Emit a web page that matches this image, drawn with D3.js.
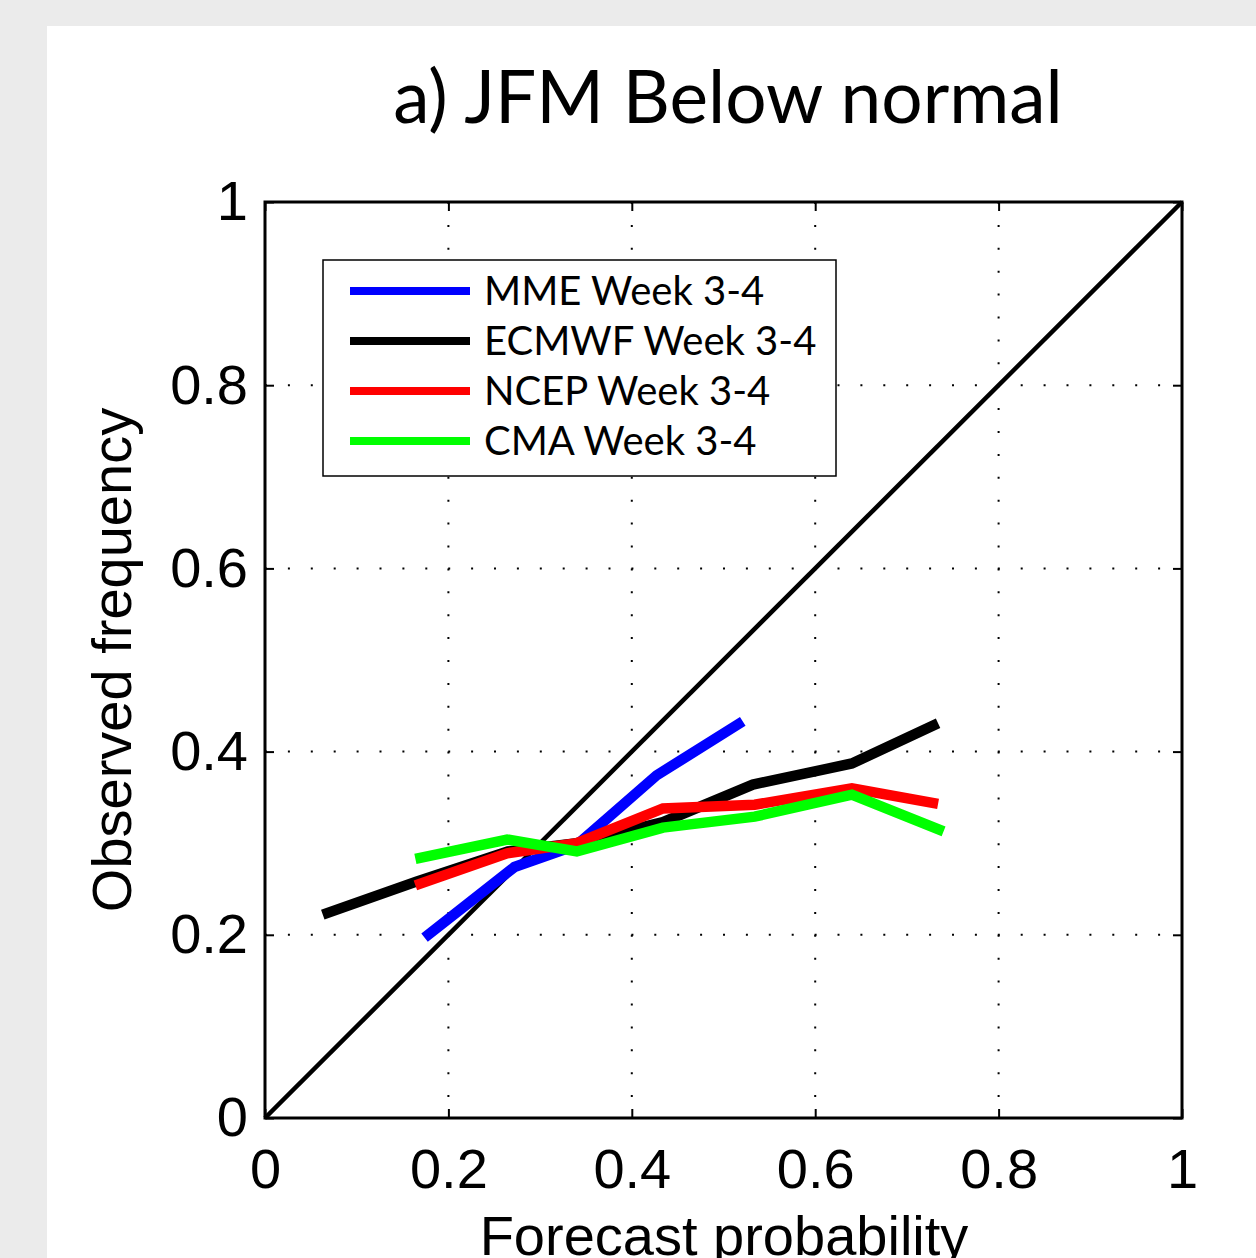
<!DOCTYPE html>
<meta charset="utf-8">
<head>
    <script type="text/javascript" src="https://d3js.org/d3.v7.min.js"></script>
    <style>
        body { margin: 0; background: #ebebeb; }
        .tick text { font-family: "Liberation Sans", Arial, sans-serif; font-size: 56px; fill: #000; }
    </style>
    <title>a) JFM Below normal</title>
</head>
<body>
<script>

    // data
    var seriesNames = ["MME Week 3-4", "ECMWF Week 3-4", "NCEP Week 3-4", "CMA Week 3-4"];
    var seriesColors = ["#0000ff", "#000000", "#ff0000", "#00ff00"];

    var mmeX = [0.174, 0.272, 0.340, 0.427, 0.521];
    var mmeY = [0.197, 0.274, 0.298, 0.374, 0.433];

    var ecmwfX = [0.063, 0.165, 0.265, 0.340, 0.434, 0.532, 0.640, 0.734];
    var ecmwfY = [0.222, 0.258, 0.291, 0.300, 0.323, 0.364, 0.387, 0.431];

    var ncepX = [0.164, 0.264, 0.340, 0.434, 0.534, 0.640, 0.734];
    var ncepY = [0.254, 0.289, 0.300, 0.338, 0.342, 0.360, 0.343];

    var cmaX = [0.164, 0.264, 0.340, 0.434, 0.534, 0.640, 0.740];
    var cmaY = [0.283, 0.304, 0.291, 0.317, 0.329, 0.353, 0.313];

    var tickVals = [0, 0.2, 0.4, 0.6, 0.8, 1];
    var gridVals = [0.2, 0.4, 0.6, 0.8];

    var allX = [mmeX, ecmwfX, ncepX, cmaX];
    var allY = [mmeY, ecmwfY, ncepY, cmaY];

    // size and plot area
    var W = 1256, H = 1258;
    var margin = {top: 202, right: 74, bottom: 140, left: 265};
    var width = W - margin.left - margin.right;
    var height = H - margin.top - margin.bottom;

    var svg = d3.select("body")
        .append("svg")
        .attr("width", W)
        .attr("height", H);

    svg.append("rect").attr("width", W).attr("height", H).attr("fill", "#ebebeb");
    svg.append("rect").attr("x", 47).attr("y", 26).attr("width", W - 47).attr("height", H - 26).attr("fill", "#fff");

    var x = d3.scaleLinear().domain([0, 1]).range([0, width]);
    var y = d3.scaleLinear().domain([0, 1]).range([height, 0]);

    var g = svg.append("g").attr("transform", "translate(" + margin.left + "," + margin.top + ")");

    // dotted grid
    g.selectAll(".vgrid").data(gridVals).enter().append("line")
        .attr("x1", d => x(d)).attr("x2", d => x(d))
        .attr("y1", 0).attr("y2", height)
        .attr("stroke", "#000").attr("stroke-width", 2)
        .attr("stroke-dasharray", "2,20.9");
    g.selectAll(".hgrid").data(gridVals).enter().append("line")
        .attr("y1", d => y(d)).attr("y2", d => y(d))
        .attr("x1", 0).attr("x2", width)
        .attr("stroke", "#000").attr("stroke-width", 2)
        .attr("stroke-dasharray", "2,20.9");

    // axes with inward ticks
    var fmt = d3.format("");
    g.append("g").attr("transform", "translate(0," + height + ")")
        .call(d3.axisBottom(x).tickValues(tickVals).tickFormat(fmt).tickSizeInner(-9).tickSizeOuter(0).tickPadding(30))
        .call(a => a.select(".domain").remove());
    g.append("g")
        .call(d3.axisLeft(y).tickValues(tickVals).tickFormat(fmt).tickSizeInner(-9).tickSizeOuter(0).tickPadding(17))
        .call(a => a.select(".domain").remove());
    g.append("g")
        .call(d3.axisTop(x).tickValues(tickVals).tickFormat("").tickSizeInner(-9).tickSizeOuter(0))
        .call(a => a.select(".domain").remove());
    g.append("g").attr("transform", "translate(" + width + ",0)")
        .call(d3.axisRight(y).tickValues(tickVals).tickFormat("").tickSizeInner(-9).tickSizeOuter(0))
        .call(a => a.select(".domain").remove());
    g.selectAll(".tick line").attr("stroke", "#000").attr("stroke-width", 2);

    // perfect reliability line
    g.append("line")
        .attr("x1", x(0)).attr("y1", y(0)).attr("x2", x(1)).attr("y2", y(1))
        .attr("stroke", "#000").attr("stroke-width", 4.5);

    // series
    var line = d3.line().x(d => x(d[0])).y(d => y(d[1]));
    var order = [1, 0, 2, 3];
    order.forEach(function (i) {
        var pts = d3.zip(allX[i], allY[i]);
        g.append("path")
            .datum(pts)
            .attr("d", line)
            .attr("fill", "none")
            .attr("stroke", seriesColors[i])
            .attr("stroke-width", 10.5);
    });

    // box
    g.append("rect")
        .attr("width", width).attr("height", height)
        .attr("fill", "none").attr("stroke", "#000").attr("stroke-width", 3);

    // legend
    var leg = svg.append("g").attr("transform", "translate(323,260)");
    leg.append("rect").attr("width", 513).attr("height", 216)
        .attr("fill", "#fff").attr("stroke", "#000").attr("stroke-width", 1.5);
    seriesNames.forEach(function (name, i) {
        var ly = 31 + i * 50;
        leg.append("line").attr("x1", 27).attr("x2", 147).attr("y1", ly).attr("y2", ly)
            .attr("stroke", seriesColors[i]).attr("stroke-width", 8);
        leg.append("text").attr("x", 161).attr("y", ly + 14)
            .attr("font-family", "Lato, 'Open Sans', sans-serif").attr("font-size", 40)
            .text(name);
    });

    // titles
    svg.append("text")
        .attr("x", 728).attr("y", 123)
        .attr("text-anchor", "middle")
        .attr("font-family", "Lato, 'Open Sans', sans-serif").attr("font-size", 73)
        .text("a) JFM Below normal");

    svg.append("text")
        .attr("x", 724).attr("y", 1255)
        .attr("text-anchor", "middle")
        .attr("font-family", "'Liberation Sans', Arial, sans-serif").attr("font-size", 56)
        .text("Forecast probability");

    svg.append("text")
        .attr("transform", "translate(131,660) rotate(-90)")
        .attr("text-anchor", "middle")
        .attr("font-family", "'Liberation Sans', Arial, sans-serif").attr("font-size", 56)
        .text("Observed frequency");

</script>
</body>
